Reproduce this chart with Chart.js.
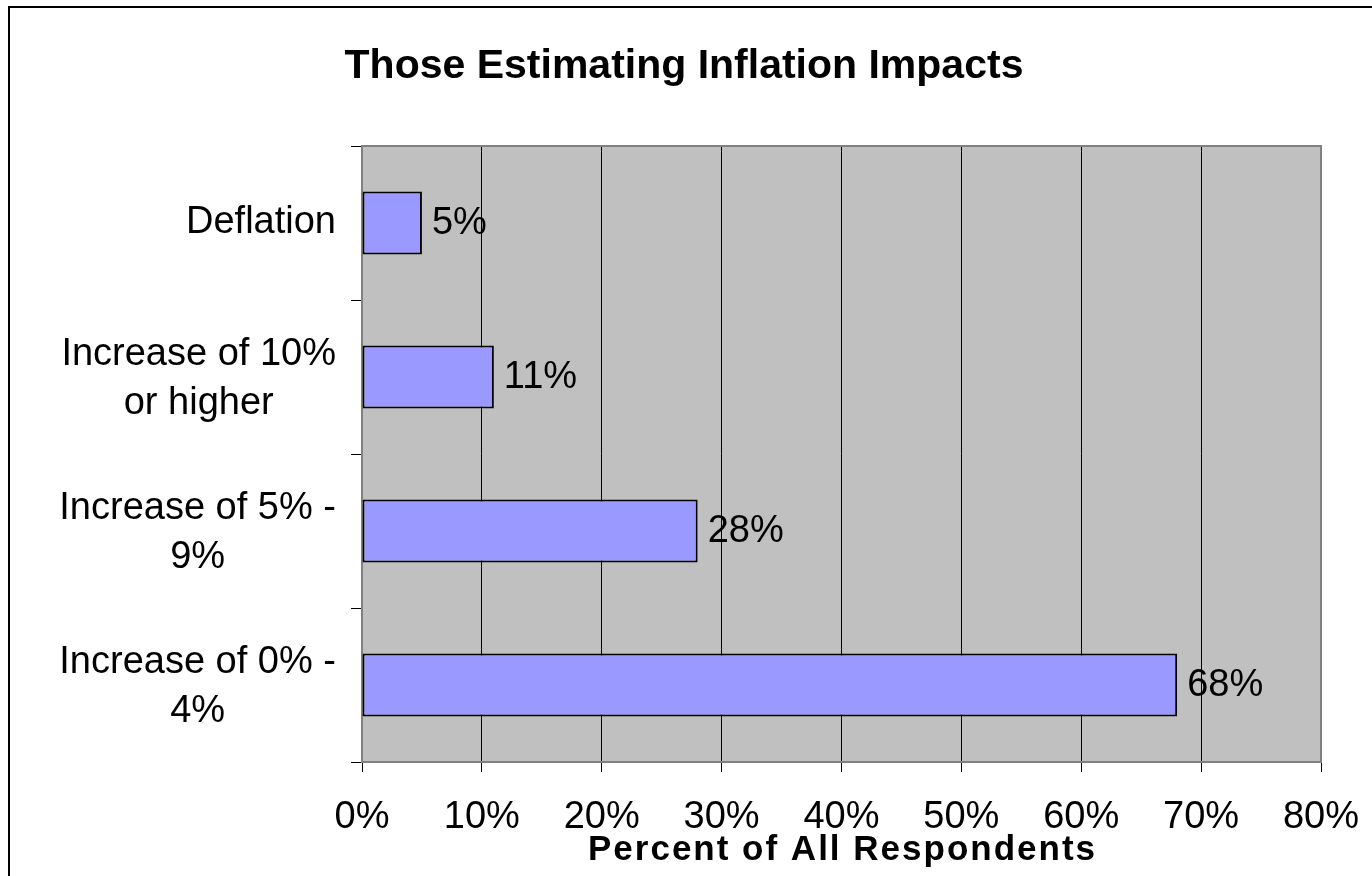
<!DOCTYPE html>
<html>
<head>
<meta charset="utf-8">
<title>Those Estimating Inflation Impacts</title>
<script src="https://cdn.jsdelivr.net/npm/chart.js@4.4.1/dist/chart.umd.min.js"></script>
<style>
  html, body { margin: 0; padding: 0; background: #fff; }
  canvas { display: block; }
</style>
</head>
<body>
<canvas id="inflation-chart" width="1372" height="876"></canvas>
<script>
// Survey answers, top to bottom
const categories = [
    ['Deflation'],
    ['Increase of 10%', 'or higher'],
    ['Increase of 5% -', '9%'],
    ['Increase of 0% -', '4%']
];
const percentages = [5, 11, 28, 68];
const xTicks = [0, 10, 20, 30, 40, 50, 60, 70, 80];

const chartTitle = 'Those Estimating Inflation Impacts';
const axisTitle = 'Percent of All Respondents';

const FONT = '"Liberation Sans", Arial, sans-serif';
Chart.defaults.font.family = FONT;
Chart.defaults.color = '#000';

// Gray plot area, frame, titles, category labels and value labels
const excelLook = {
    id: 'excelLook',
    beforeDraw(chart) {
        const { ctx, chartArea: a } = chart;
        ctx.save();
        ctx.fillStyle = '#fff';
        ctx.fillRect(0, 0, chart.width, chart.height);
        ctx.fillStyle = '#c0c0c0';
        ctx.fillRect(a.left, a.top, a.right - a.left, a.bottom - a.top);
        ctx.restore();
    },
    beforeDatasetsDraw(chart) {
        const { ctx, chartArea: a } = chart;
        ctx.save();
        ctx.strokeStyle = '#808080';
        ctx.lineWidth = 2;
        ctx.beginPath();
        ctx.moveTo(a.left, a.top);
        ctx.lineTo(a.right, a.top);
        ctx.lineTo(a.right, a.bottom);
        ctx.stroke();
        ctx.restore();
    },
    afterDraw(chart) {
        const { ctx } = chart;
        const yScale = chart.scales.y;
        ctx.save();

        // outer frame
        ctx.strokeStyle = '#000';
        ctx.lineWidth = 2;
        ctx.strokeRect(9, 7, chart.width + 20, chart.height + 20);

        // chart title
        ctx.fillStyle = '#000';
        ctx.textAlign = 'center';
        ctx.textBaseline = 'alphabetic';
        ctx.font = 'bold 41px ' + FONT;
        ctx.fillText(chartTitle, 684, 78);

        // x axis title
        ctx.font = 'bold 35px ' + FONT;
        ctx.letterSpacing = '2px';
        ctx.fillText(axisTitle, (chart.chartArea.left + chart.chartArea.right) / 2 + 1, 860);
        ctx.letterSpacing = '0px';

        // category labels: block right-aligned, lines centred in block
        ctx.font = '38px ' + FONT;
        ctx.textBaseline = 'middle';
        const lineH = 49;
        categories.forEach((lines, i) => {
            const y = yScale.getPixelForValue(i) + (lines.length > 1 ? 2 : 0);
            const blockW = Math.max(...lines.map(l => ctx.measureText(l).width));
            const cx = 336 - blockW / 2;
            lines.forEach((l, j) => {
                ctx.fillText(l, cx, y + (j - (lines.length - 1) / 2) * lineH);
            });
        });

        // value labels next to each bar
        ctx.textAlign = 'left';
        const meta = chart.getDatasetMeta(0);
        meta.data.forEach((bar, i) => {
            ctx.fillText(percentages[i] + '%', bar.x + 10, bar.y + 1);
        });
        ctx.restore();
    }
};

new Chart(document.getElementById('inflation-chart'), {
    type: 'bar',
    data: {
        labels: categories.map(c => c.join(' ')),
        datasets: [{
            data: percentages,
            backgroundColor: '#9999ff',
            borderColor: '#000',
            borderWidth: 2,
            borderSkipped: false,
            barPercentage: 0.41,
            categoryPercentage: 1
        }]
    },
    options: {
        indexAxis: 'y',
        responsive: false,
        animation: false,
        devicePixelRatio: 1,
        layout: { padding: { left: 0, top: 146, right: 51, bottom: 0 } },
        plugins: {
            legend: { display: false },
            title: { display: false },
            tooltip: { enabled: false }
        },
        scales: {
            x: {
                type: 'linear',
                min: xTicks[0],
                max: xTicks[xTicks.length - 1],
                afterBuildTicks: scale => {
                    scale.ticks = xTicks.map(v => ({ value: v }));
                },
                ticks: {
                    callback: v => v + '%',
                    font: { size: 38 },
                    padding: 23,
                    maxRotation: 0
                },
                grid: { color: '#000', lineWidth: 1, tickLength: 10, tickColor: '#000' },
                border: { color: '#808080', width: 2 },
                afterFit: scale => {
                    scale.height = 114;
                    scale.paddingLeft = 0;
                    scale.paddingRight = 0;
                }
            },
            y: {
                type: 'category',
                offset: true,
                ticks: { display: false },
                grid: {
                    offset: true,
                    drawOnChartArea: false,
                    tickLength: 11,
                    color: '#000'
                },
                border: { color: '#808080', width: 2 },
                afterFit: scale => {
                    scale.width = 362;
                    scale.paddingTop = 0;
                    scale.paddingBottom = 0;
                }
            }
        }
    },
    plugins: [excelLook]
});
</script>
</body>
</html>
